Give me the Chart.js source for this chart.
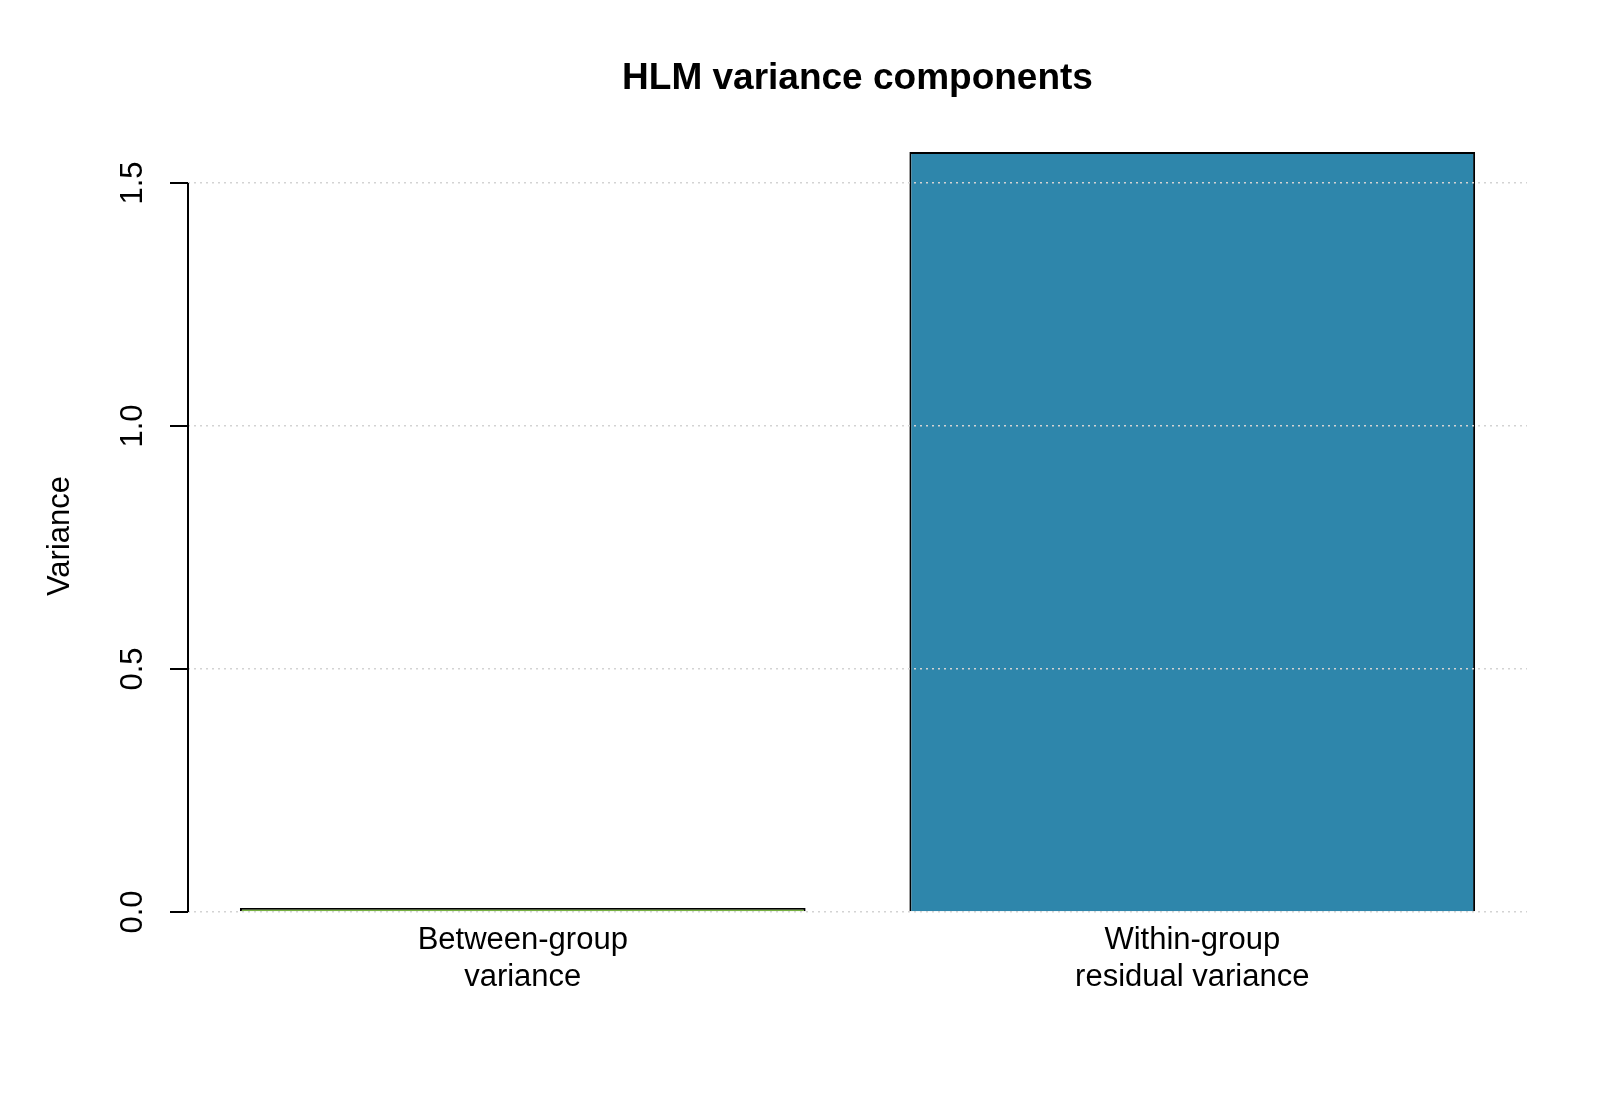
<!DOCTYPE html>
<html>
<head>
<meta charset="utf-8">
<script src="https://cdn.jsdelivr.net/npm/chart.js@4.4.1/dist/chart.umd.min.js"></script>
<style>
  html, body { margin: 0; padding: 0; background: #fff; }
  #wrap { width: 1600px; height: 1108px; }
</style>
</head>
<body>
<div id="wrap"><canvas id="chart" width="1600" height="1108"></canvas></div>
<script>
const categories = [['Between-group', 'variance'], ['Within-group', 'residual variance']];
const variances = [0.008, 1.564];
const barColors = ['#76b041', '#2e86ab'];
const yTicks = [0, 0.5, 1.0, 1.5];
const yTickLabels = ['0.0', '0.5', '1.0', '1.5'];
const chartTitle = 'HLM variance components';

const FONT = 'Liberation Sans, Arial, sans-serif';

// R-style axis: line only across the tick range, rotated tick labels, rotated y title,
// and a title centred over the plot region
const rAxisPlugin = {
    id: 'rAxis',
    afterDraw(chart) {
        const ctx = chart.ctx;
        const y = chart.scales.y;
        const area = chart.chartArea;
        const x0 = area.left;
        ctx.save();
        ctx.strokeStyle = '#000';
        ctx.lineWidth = 2;
        ctx.beginPath();
        ctx.moveTo(x0, y.getPixelForValue(yTicks[0]));
        ctx.lineTo(x0, y.getPixelForValue(yTicks[yTicks.length - 1]));
        yTicks.forEach(v => {
            const py = y.getPixelForValue(v);
            ctx.moveTo(x0 - 18, py);
            ctx.lineTo(x0, py);
        });
        ctx.stroke();

        ctx.fillStyle = '#000';
        ctx.font = '31px ' + FONT;
        ctx.textAlign = 'center';
        ctx.textBaseline = 'middle';
        yTicks.forEach((v, i) => {
            ctx.save();
            ctx.translate(133, y.getPixelForValue(v));
            ctx.rotate(-Math.PI / 2);
            ctx.fillText(yTickLabels[i], 0, 0);
            ctx.restore();
        });

        ctx.save();
        ctx.translate(60, 536);
        ctx.rotate(-Math.PI / 2);
        ctx.fillText('Variance', 0, 0);
        ctx.restore();

        ctx.font = 'bold 37px ' + FONT;
        ctx.fillText(chartTitle, (area.left + area.right) / 2, 79);
        ctx.restore();
    }
};

new Chart(document.getElementById('chart').getContext('2d'), {
    type: 'bar',
    data: {
        labels: categories,
        datasets: [{
            data: variances,
            backgroundColor: barColors,
            borderColor: '#000',
            borderWidth: 2,
            categoryPercentage: 0.845,
            barPercentage: 1.0
        }]
    },
    options: {
        responsive: false,
        devicePixelRatio: 1,
        animation: false,
        layout: { padding: { left: 0, right: 73, top: 115, bottom: 0 } },
        plugins: {
            legend: { display: false },
            tooltip: { enabled: false },
            title: { display: false }
        },
        scales: {
            x: {
                grid: { display: false, drawTicks: false },
                border: { display: false },
                ticks: {
                    color: '#000',
                    font: { family: FONT, size: 31, lineHeight: 1.19 },
                    padding: 10,
                    maxRotation: 0,
                    minRotation: 0
                },
                afterFit(s) { s.height = 196; }
            },
            y: {
                min: 0,
                max: 1.64,
                afterBuildTicks(s) { s.ticks = yTicks.map(v => ({ value: v })); },
                ticks: { display: false },
                grid: {
                    z: 1,
                    color: '#d3d3d3',
                    lineWidth: 1.5,
                    drawTicks: false
                },
                border: { display: false, dash: [2, 4] },
                afterFit(s) { s.width = 188; }
            }
        }
    },
    plugins: [rAxisPlugin]
});
</script>
</body>
</html>
